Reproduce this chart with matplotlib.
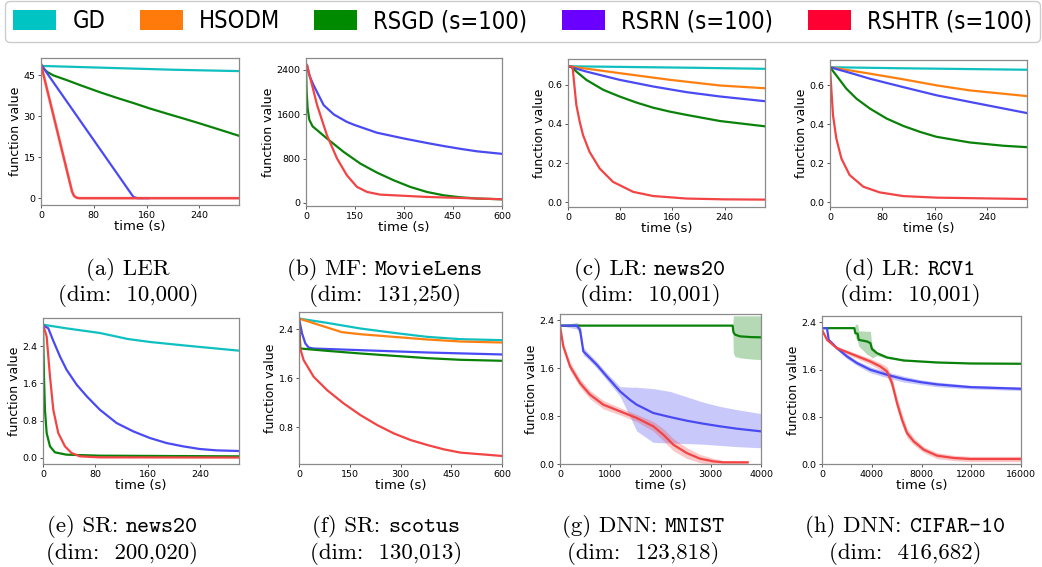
import matplotlib
matplotlib.use("Agg")
import matplotlib.pyplot as plt
import numpy as np
from matplotlib.patches import Patch
from matplotlib import font_manager
from matplotlib.font_manager import FontProperties

# ---------------- data ----------------
methods = ["GD", "HSODM", "RSGD (s=100)", "RSRN (s=100)", "RSHTR (s=100)"]
legend_colors = ["#00c4c4", "#ff7a0a", "#008a00", "#6a00ff", "#ff0033"]
line_colors = ["#10c0c0", "#ff8010", "#0a820a", "#4a4af5", "#f24444"]

# (a) LER
a_gd_t = [0, 100, 200, 300]
a_gd_y = [48.5, 47.8, 47.1, 46.6]
a_rsgd_t = [0, 5, 10, 19, 39, 60, 90, 115, 140, 165, 191, 215, 241, 270, 300]
a_rsgd_y = [49, 47.3, 46.2, 45, 43.3, 41.4, 38.8, 36.8, 34.9, 32.9, 31.0, 29.3, 27.4, 25.2, 22.9]
a_rsrn_t = [0, 140, 146, 163]
a_rsrn_y = [49, 0.5, 0.05, 0.05]
a_rshtr_t = [0, 47, 50, 54, 58, 300]
a_rshtr_y = [49, 2.5, 0.9, 0.2, 0.05, 0.05]

# (b) MF MovieLens
b_rsrn_t = [0, 3, 10, 23, 54, 85, 125, 150, 217, 300, 370, 421, 472, 523, 600]
b_rsrn_y = [2500, 2484, 2300, 2123, 1762, 1594, 1460, 1401, 1265, 1160, 1080, 1025, 975, 930, 884]
b_rsgd_t = [0, 2, 5, 10, 20, 34, 64, 115, 166, 217, 268, 319, 370, 421, 472, 523, 600]
b_rsgd_y = [2450, 2000, 1700, 1500, 1380, 1311, 1161, 920, 710, 547, 409, 289, 198, 138, 102, 80, 66]
b_rshtr_t = [0, 3, 34, 64, 95, 125, 156, 187, 227, 268, 370, 472, 600]
b_rshtr_y = [2500, 2484, 1762, 1221, 800, 499, 289, 198, 150, 138, 108, 90, 66]

# (c) LR news20
c_gd_t = [0, 100, 200, 302]
c_gd_y = [0.693, 0.689, 0.685, 0.680]
c_hsodm_t = [0, 30, 79, 156, 233, 302]
c_hsodm_y = [0.693, 0.680, 0.658, 0.624, 0.595, 0.581]
c_rsrn_t = [0, 28, 79, 130.5, 182, 233, 302]
c_rsrn_y = [0.693, 0.666, 0.624, 0.590, 0.561, 0.539, 0.515]
c_rsgd_t = [0, 5, 12.8, 28, 54, 79, 105, 130.5, 156, 182, 233, 302]
c_rsgd_y = [0.693, 0.690, 0.666, 0.624, 0.573, 0.539, 0.508, 0.482, 0.462, 0.445, 0.414, 0.387]
c_rshtr_t = [0, 7, 10.2, 12.8, 17.9, 23, 33, 48.6, 69, 100, 130.5, 182, 240, 302]
c_rshtr_y = [0.693, 0.690, 0.581, 0.496, 0.411, 0.343, 0.257, 0.172, 0.104, 0.053, 0.032, 0.019, 0.015, 0.0136]

# (d) LR RCV1
d_gd_t = [0, 100, 200, 301]
d_gd_y = [0.693, 0.688, 0.684, 0.680]
d_hsodm_t = [0, 61, 112, 163, 214, 301]
d_hsodm_y = [0.693, 0.660, 0.631, 0.600, 0.574, 0.545]
d_rsrn_t = [0, 35, 61, 112, 163, 214, 266, 301]
d_rsrn_y = [0.693, 0.660, 0.634, 0.591, 0.549, 0.515, 0.481, 0.458]
d_rsgd_t = [0, 9.7, 25, 40.4, 61, 86.5, 112, 138, 163, 214, 266, 301]
d_rsgd_y = [0.693, 0.651, 0.583, 0.532, 0.481, 0.430, 0.392, 0.361, 0.336, 0.307, 0.290, 0.283]
d_rshtr_t = [0, 2, 4.6, 9.7, 17.4, 30, 51, 76, 112, 163, 301]
d_rshtr_y = [0.693, 0.583, 0.447, 0.327, 0.225, 0.140, 0.080, 0.051, 0.032, 0.024, 0.017]

# (e) SR news20
e_gd_t = [0, 36, 87, 130, 164, 214.5, 300]
e_gd_y = [2.866, 2.787, 2.687, 2.557, 2.493, 2.421, 2.306]
e_rsrn_t = [0, 8, 16, 26, 36, 51.5, 67, 87, 112.6, 138, 163.6, 189, 214.5, 240, 265.5, 300]
e_rsrn_y = [2.85, 2.79, 2.51, 2.18, 1.897, 1.573, 1.322, 1.034, 0.747, 0.568, 0.424, 0.316, 0.244, 0.187, 0.158, 0.144]
e_rsgd_t = [0, 1.5, 3, 5.6, 10.7, 18.3, 36, 87, 300]
e_rsgd_y = [2.87, 1.75, 1.03, 0.53, 0.244, 0.115, 0.065, 0.043, 0.029]
e_rshtr_t = [0, 5.6, 10.7, 15.8, 23.4, 33.6, 43.8, 56.6, 87, 300]
e_rshtr_y = [2.87, 2.61, 1.75, 1.03, 0.53, 0.244, 0.10, 0.029, 0.007, 0.003]

# (f) SR scotus
f_gd_t = [0, 83, 181.6, 280, 379, 477.6, 600]
f_gd_y = [2.573, 2.503, 2.411, 2.34, 2.275, 2.237, 2.221]
f_hsodm_t = [0, 127, 181.6, 280, 379, 477.6, 600]
f_hsodm_y = [2.573, 2.351, 2.318, 2.275, 2.232, 2.199, 2.183]
f_rsrn_t = [0, 9, 18.8, 28.6, 43, 181.6, 379, 600]
f_rsrn_y = [2.573, 2.33, 2.167, 2.10, 2.085, 2.058, 2.02, 1.988]
f_rsgd_t = [0, 4, 83, 181.6, 280, 379, 477.6, 600]
f_rsgd_y = [2.573, 2.085, 2.047, 2.004, 1.966, 1.928, 1.901, 1.885]
f_rshtr_t = [0, 2, 13.8, 43.4, 83, 132, 181.6, 231, 280, 329.6, 379, 428, 477.6, 600]
f_rshtr_y = [2.573, 2.112, 1.895, 1.624, 1.407, 1.19, 1.0, 0.838, 0.702, 0.594, 0.513, 0.442, 0.388, 0.334]

# (g) DNN MNIST
g_rsgd_t = [0, 3436, 3450, 3483, 3582, 3800, 4000]
g_rsgd_y = [2.306, 2.306, 2.2, 2.156, 2.128, 2.115, 2.111]
g_rsgd_lo = [2.306, 2.306, 1.85, 1.79, 1.77, 1.75, 1.74]
g_rsgd_hi = [2.306, 2.306, 2.47, 2.47, 2.47, 2.47, 2.47]
g_rsrn_t = [0, 332, 398, 464, 531, 730, 929, 1194, 1393, 1526, 1857, 2189, 2521, 2852, 3184, 3516, 4000]
g_rsrn_y = [2.306, 2.306, 2.239, 1.878, 1.822, 1.656, 1.461, 1.211, 1.07, 0.989, 0.85, 0.783, 0.722, 0.672, 0.628, 0.589, 0.544]
g_rsrn_hi = [2.306, 2.36, 2.33, 1.95, 1.88, 1.71, 1.52, 1.29, 1.28, 1.28, 1.256, 1.21, 1.12, 1.03, 0.96, 0.906, 0.84]
g_rsrn_lo = [2.306, 2.25, 2.15, 1.81, 1.77, 1.60, 1.40, 1.13, 0.79, 0.55, 0.36, 0.35, 0.34, 0.33, 0.31, 0.29, 0.27]
g_rshtr_t = [0, 66, 199, 398, 597, 862, 1194, 1526, 1857, 2056, 2255, 2521, 2786, 3051, 3250, 3735]
g_rshtr_y = [2.306, 1.961, 1.628, 1.35, 1.156, 0.989, 0.878, 0.767, 0.628, 0.489, 0.322, 0.183, 0.089, 0.044, 0.028, 0.028]
g_rshtr_w = [0, 0.05, 0.07, 0.07, 0.07, 0.07, 0.06, 0.06, 0.08, 0.10, 0.10, 0.09, 0.07, 0.05, 0.03, 0.02]

# (h) DNN CIFAR-10
h_rsgd_t = [0, 2600, 2680, 2870, 2950, 3620, 3890, 4020, 4420, 5230, 6570, 9250, 11930, 16000]
h_rsgd_y = [2.304, 2.304, 2.219, 2.208, 2.106, 2.078, 2.05, 1.948, 1.88, 1.807, 1.756, 1.722, 1.705, 1.70]
h_rsgd_hi = [2.304, 2.304, 2.37, 2.37, 2.26, 2.25, 2.25, 2.0, 1.90, 1.82, 1.77, 1.73, 1.71, 1.705]
h_rsgd_lo = [2.304, 2.304, 2.15, 2.08, 2.0, 1.86, 1.83, 1.80, 1.84, 1.79, 1.745, 1.715, 1.70, 1.695]
h_rsrn_t = [0, 400, 540, 1206, 2011, 2815, 3890, 5228, 6568, 7910, 9250, 11930, 16000]
h_rsrn_y = [2.304, 2.304, 2.106, 1.965, 1.824, 1.711, 1.598, 1.513, 1.44, 1.389, 1.35, 1.304, 1.276]
h_rsrn_w = [0, 0.0, 0.02, 0.03, 0.04, 0.04, 0.05, 0.05, 0.05, 0.04, 0.04, 0.03, 0.03]
h_rshtr_t = [0, 402, 1206, 2547, 3887, 4692, 5228, 5630, 6032, 6434, 6836, 7373, 8177, 9250, 10590, 11930, 16000]
h_rshtr_y = [2.276, 2.106, 1.965, 1.852, 1.739, 1.654, 1.57, 1.372, 1.033, 0.751, 0.525, 0.384, 0.243, 0.141, 0.102, 0.085, 0.085]
h_rshtr_w = [0, 0.02, 0.03, 0.04, 0.05, 0.06, 0.08, 0.10, 0.10, 0.10, 0.08, 0.06, 0.05, 0.05, 0.045, 0.045, 0.045]

# caption parts: (roman prefix, typewriter dataset name, roman second line)
cap_prefix = ["(a) LER", "(b) MF: ", "(c) LR: ", "(d) LR: ", "(e) SR: ", "(f) SR: ", "(g) DNN: ", "(h) DNN: "]
cap_dataset = ["", "MovieLens", "news20", "RCV1", "news20", "scotus", "MNIST", "CIFAR-10"]
cap_dim = ["(dim:  10,000)", "(dim:  131,250)", "(dim:  10,001)", "(dim:  10,001)",
           "(dim:  200,020)", "(dim:  130,013)", "(dim:  123,818)", "(dim:  416,682)"]

# ---------------- figure ----------------
plt.rcParams['font.family'] = ['DejaVu Sans']
W, H = 1042, 567
fig = plt.figure(figsize=(W / 100, H / 100), dpi=100)


def ax_at(l, t, r, b):
    return fig.add_axes([l / W, 1 - b / H, (r - l) / W, (b - t) / H])


boxes = [(41, 58, 239, 205), (306, 58, 502, 206), (568, 59, 765, 207), (830, 60, 1027, 207),
         (43, 318, 239, 464), (299, 312, 502, 464), (560, 314, 761, 464), (822, 316, 1021, 464)]
axes = [ax_at(*b) for b in boxes]

LW = 1.6
GD, HS, SG, RN, HT = line_colors


def style(ax, xlim, ylim, xt, yt):
    ax.set_xlim(*xlim)
    ax.set_ylim(*ylim)
    ax.set_xticks(xt)
    ax.set_yticks(yt)
    for s in ax.spines.values():
        s.set_color("#8a8a8a")
        s.set_linewidth(0.9)
    ax.tick_params(labelsize=6.8, length=2.5, width=0.7, color="#555555", pad=1.5)
    ax.set_xlabel("time (s)", fontsize=9.5, labelpad=0)
    ax.set_ylabel("function value", fontsize=9, labelpad=1)


ax = axes[0]
ax.plot(a_gd_t, a_gd_y, color=GD, lw=LW)
ax.plot(a_rsgd_t, a_rsgd_y, color=SG, lw=LW)
ax.plot(a_rsrn_t, a_rsrn_y, color=RN, lw=LW)
ax.plot(a_rshtr_t, a_rshtr_y, color=HT, lw=LW + 0.6, alpha=0.35)
ax.plot(a_rshtr_t, a_rshtr_y, color=HT, lw=LW)
style(ax, (0, 300), (-2.45, 51.4), [0, 80, 160, 240], [0, 15, 30, 45])

ax = axes[1]
ax.plot(b_rsrn_t, b_rsrn_y, color=RN, lw=LW)
ax.plot(b_rsgd_t, b_rsgd_y, color=SG, lw=LW)
ax.plot(b_rshtr_t, b_rshtr_y, color=HT, lw=LW)
style(ax, (0, 600), (-55, 2610), [0, 150, 300, 450, 600], [0, 800, 1600, 2400])

ax = axes[2]
ax.plot(c_gd_t, c_gd_y, color=GD, lw=LW)
ax.plot(c_hsodm_t, c_hsodm_y, color=HS, lw=LW)
ax.plot(c_rsrn_t, c_rsrn_y, color=RN, lw=LW)
ax.plot(c_rsgd_t, c_rsgd_y, color=SG, lw=LW)
ax.plot(c_rshtr_t, c_rshtr_y, color=HT, lw=LW)
style(ax, (0, 302), (-0.024, 0.73), [0, 80, 160, 240], [0.0, 0.2, 0.4, 0.6])

ax = axes[3]
ax.plot(d_gd_t, d_gd_y, color=GD, lw=LW)
ax.plot(d_hsodm_t, d_hsodm_y, color=HS, lw=LW)
ax.plot(d_rsrn_t, d_rsrn_y, color=RN, lw=LW)
ax.plot(d_rsgd_t, d_rsgd_y, color=SG, lw=LW)
ax.plot(d_rshtr_t, d_rshtr_y, color=HT, lw=LW)
style(ax, (0, 301.5), (-0.024, 0.73), [0, 80, 160, 240], [0.0, 0.2, 0.4, 0.6])

ax = axes[4]
ax.plot(e_gd_t, e_gd_y, color=GD, lw=LW)
ax.plot(e_rsrn_t, e_rsrn_y, color=RN, lw=LW)
ax.plot(e_rsgd_t, e_rsgd_y, color=SG, lw=LW)
ax.plot(e_rshtr_t, e_rshtr_y, color=HT, lw=LW)
style(ax, (0, 300), (-0.136, 3.01), [0, 80, 160, 240], [0.0, 0.8, 1.6, 2.4])

ax = axes[5]
ax.plot(f_gd_t, f_gd_y, color=GD, lw=LW)
ax.plot(f_hsodm_t, f_hsodm_y, color=HS, lw=LW)
ax.plot(f_rsrn_t, f_rsrn_y, color=RN, lw=LW)
ax.plot(f_rsgd_t, f_rsgd_y, color=SG, lw=LW)
ax.plot(f_rshtr_t, f_rshtr_y, color=HT, lw=LW)
style(ax, (0, 600), (0.203, 2.68), [0, 150, 300, 450, 600], [0.8, 1.6, 2.4])

ax = axes[6]
ax.fill_between(g_rsgd_t, g_rsgd_lo, g_rsgd_hi, color=SG, alpha=0.3, lw=0)
ax.plot(g_rsgd_t, g_rsgd_y, color=SG, lw=LW)
ax.fill_between(g_rsrn_t, g_rsrn_lo, g_rsrn_hi, color=RN, alpha=0.3, lw=0)
ax.plot(g_rsrn_t, g_rsrn_y, color=RN, lw=LW)
gy = np.array(g_rshtr_y); gw = np.array(g_rshtr_w)
ax.fill_between(g_rshtr_t, gy - gw, gy + gw, color=HT, alpha=0.3, lw=0)
ax.plot(g_rshtr_t, g_rshtr_y, color=HT, lw=LW)
style(ax, (0, 4000), (0, 2.5), [0, 1000, 2000, 3000, 4000], [0.0, 0.8, 1.6, 2.4])

ax = axes[7]
ax.fill_between(h_rsgd_t, h_rsgd_lo, h_rsgd_hi, color=SG, alpha=0.3, lw=0)
ax.plot(h_rsgd_t, h_rsgd_y, color=SG, lw=LW)
ny = np.array(h_rsrn_y); nw = np.array(h_rsrn_w)
ax.fill_between(h_rsrn_t, ny - nw, ny + nw, color=RN, alpha=0.3, lw=0)
ax.plot(h_rsrn_t, h_rsrn_y, color=RN, lw=LW)
hy = np.array(h_rshtr_y); hw = np.array(h_rshtr_w)
ax.fill_between(h_rshtr_t, hy - hw, hy + hw, color=HT, alpha=0.3, lw=0)
ax.plot(h_rshtr_t, h_rshtr_y, color=HT, lw=LW)
style(ax, (0, 16000), (0, 2.51), [0, 4000, 8000, 12000, 16000], [0.0, 0.8, 1.6, 2.4])

# ---------------- captions (Computer Modern roman + typewriter) ----------------
fig.canvas.draw()
renderer = fig.canvas.get_renderer()
CAP_SIZE = 16.5
cap_x = [128, 385, 650, 910, 122, 386, 643, 905]
cap_base = [(275, 301)] * 4 + [(532, 559)] * 4
for i in range(8):
    cx = cap_x[i]
    b1, b2 = cap_base[i]
    t1 = fig.text(0, 1 - b1 / H, cap_prefix[i], family="cmr10", size=CAP_SIZE, va="baseline", ha="left")
    parts = [t1]
    if cap_dataset[i]:
        t2 = fig.text(0, 1 - b1 / H, cap_dataset[i], family="cmtt10", size=CAP_SIZE, va="baseline", ha="left")
        parts.append(t2)
    widths = [p.get_window_extent(renderer).width for p in parts]
    x0 = cx - sum(widths) / 2
    for p, w in zip(parts, widths):
        p.set_x(x0 / W)
        x0 += w
    fig.text(cx / W, 1 - b2 / H, cap_dim[i], family="cmr10", size=CAP_SIZE, va="baseline", ha="center")

# ---------------- legend ----------------
cond = FontProperties(family="DejaVu Sans", stretch="condensed", size=17)
path = font_manager.findfont(cond)
if "ondensed" in path:
    leg_prop = cond
else:
    leg_prop = FontProperties(family="DejaVu Sans", size=15)

fs_px = leg_prop.get_size_in_points() * 100 / 72
handles = [Patch(facecolor=c, edgecolor="none") for c in legend_colors]
leg = fig.legend(handles, methods, loc="center", ncol=5, mode="expand",
                 bbox_to_anchor=(5 / W, 1 - 40 / H, 1035 / W, 37 / H),
                 borderaxespad=0, prop=leg_prop,
                 handlelength=43 / fs_px, handleheight=22 / fs_px, handletextpad=16 / fs_px,
                 borderpad=0.35, fancybox=True, framealpha=1, edgecolor="#cccccc")

fig.savefig("out.png", dpi=100)
